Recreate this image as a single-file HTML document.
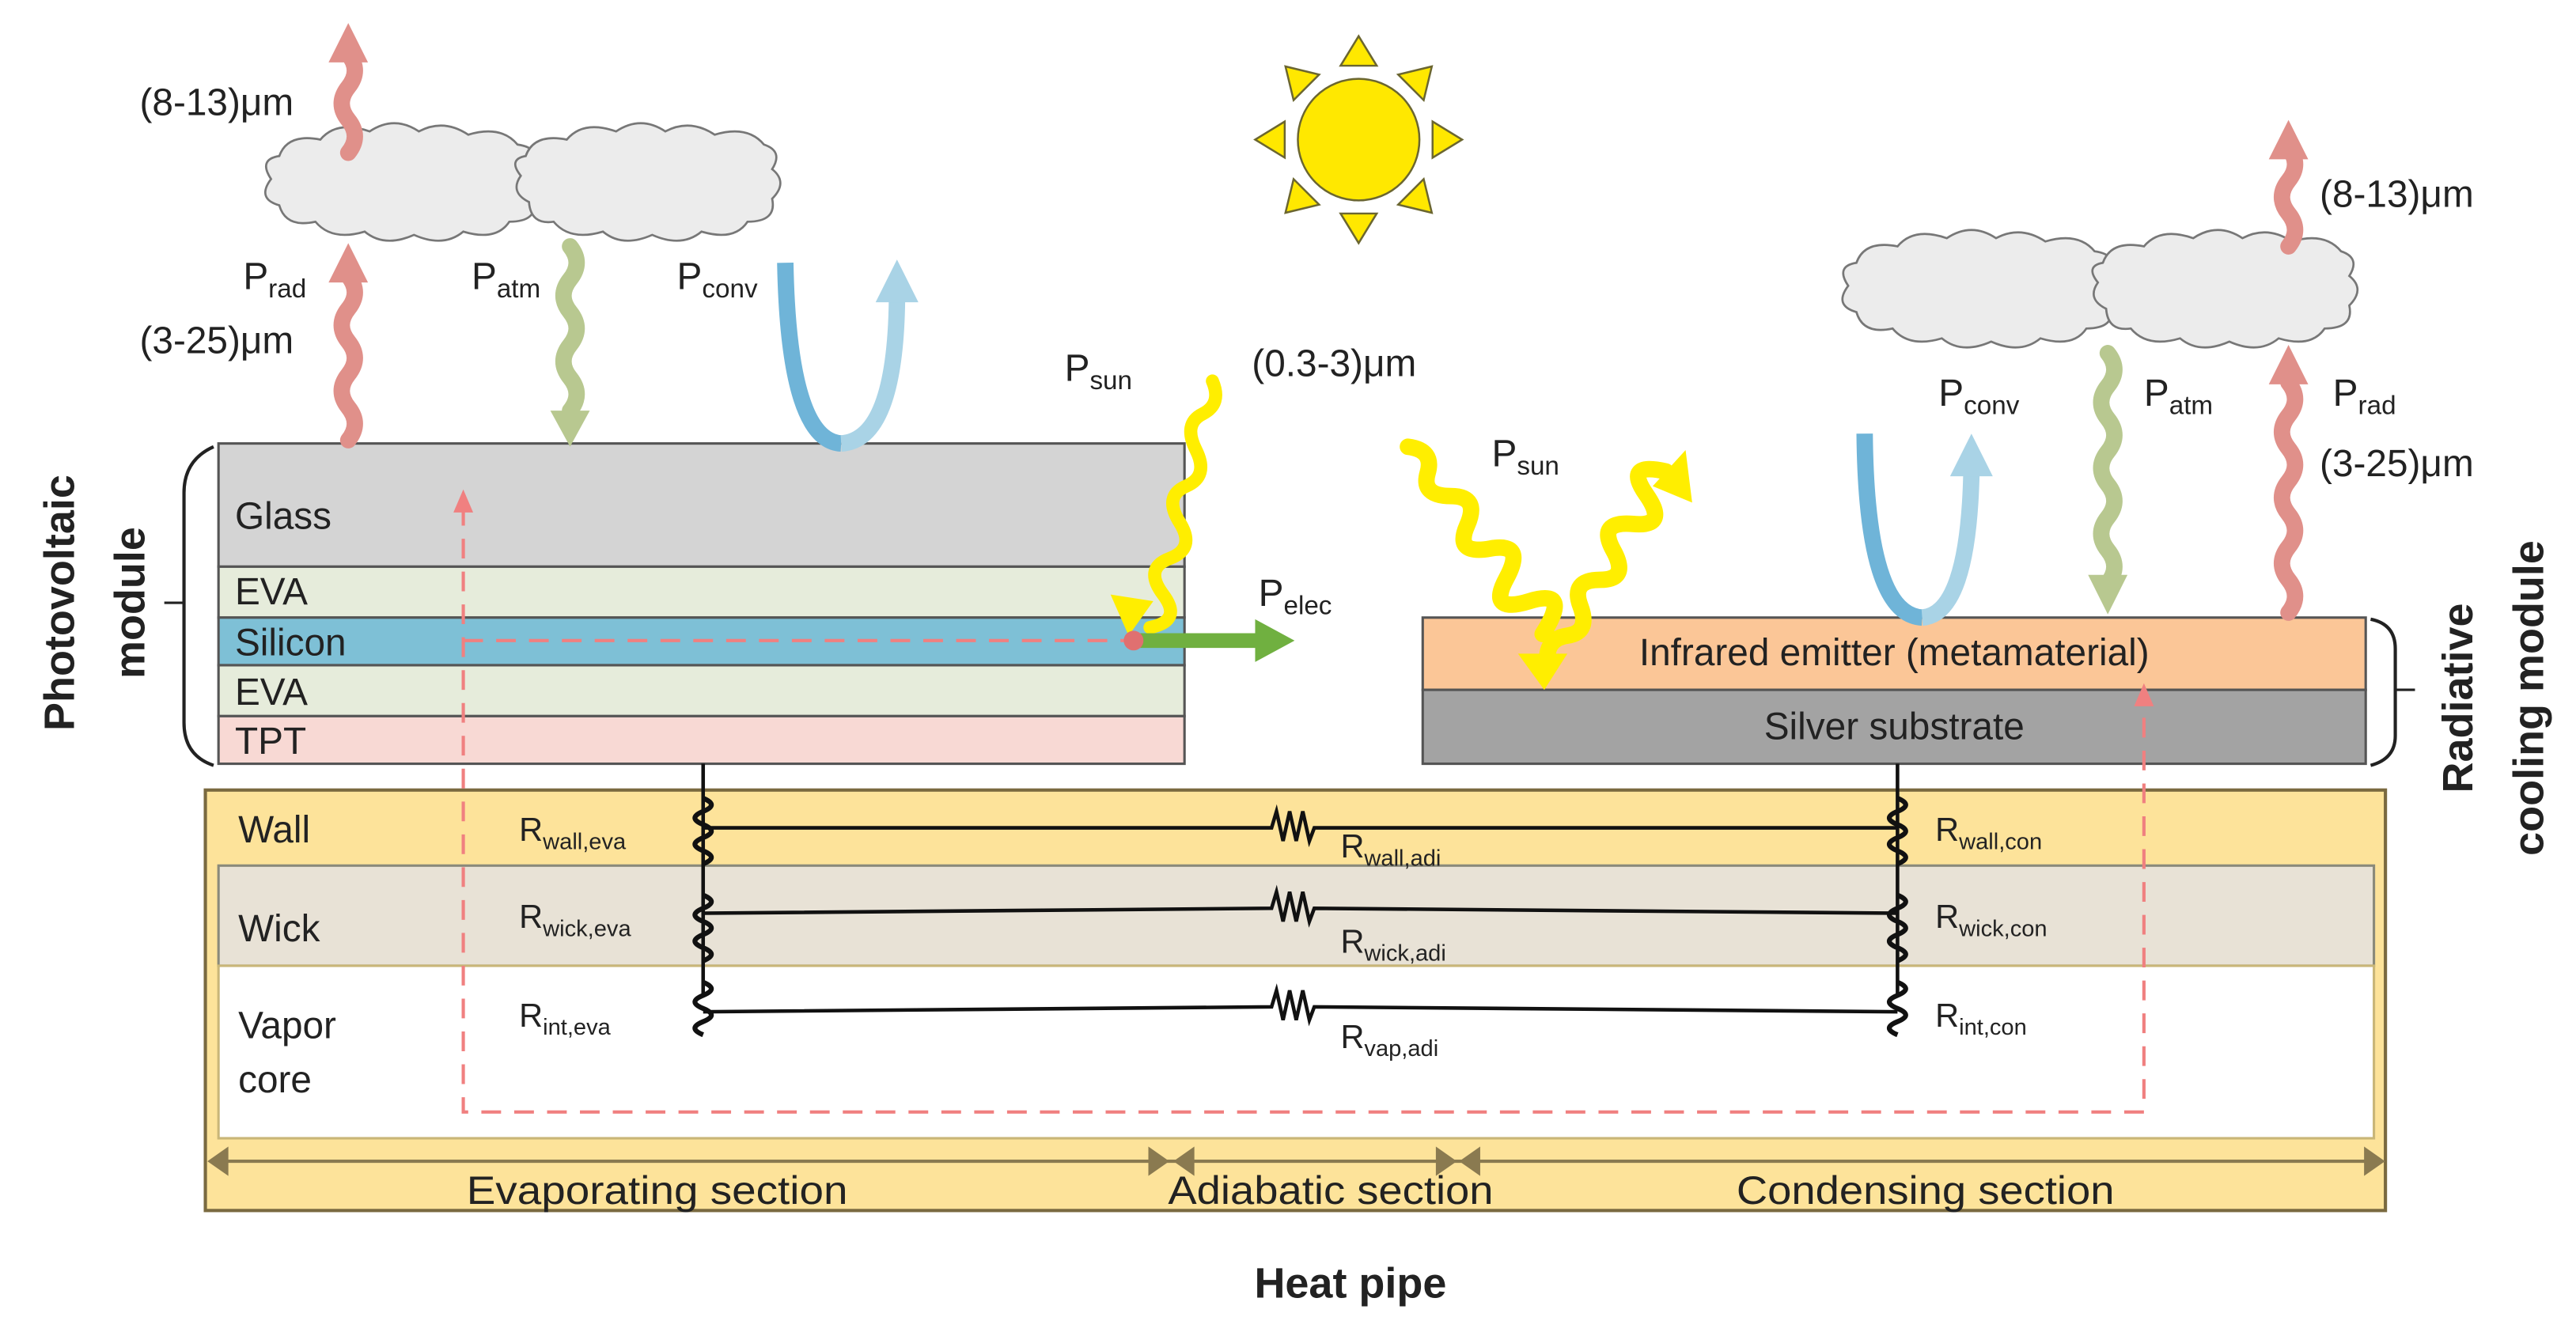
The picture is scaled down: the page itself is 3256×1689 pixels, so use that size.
<!DOCTYPE html>
<html><head><meta charset="utf-8"><style>
html,body{margin:0;padding:0;background:#fff;}
svg{display:block;}
text{font-family:"Liberation Sans",sans-serif;fill:#222;}
.s{font-size:14px;}
</style></head><body>
<svg width="3256" height="1689" viewBox="0 0 1568 813.4" preserveAspectRatio="none" xmlns="http://www.w3.org/2000/svg">
<rect width="1568" height="814" fill="#fff"/>

<!-- sun -->
<g fill="#ffe800" stroke="#6b6630" stroke-width="1.2">
<circle cx="827" cy="85" r="37"/>
<g id="tri"><polygon points="816,40 838,40 827,22"/></g>
<use href="#tri" transform="rotate(45 827 85)"/><use href="#tri" transform="rotate(90 827 85)"/>
<use href="#tri" transform="rotate(135 827 85)"/><use href="#tri" transform="rotate(180 827 85)"/>
<use href="#tri" transform="rotate(225 827 85)"/><use href="#tri" transform="rotate(270 827 85)"/>
<use href="#tri" transform="rotate(315 827 85)"/>
</g>

<!-- PV module -->
<rect x="133" y="270" width="588" height="75" fill="#d4d4d4" stroke="#555" stroke-width="1.5"/>
<rect x="133" y="345" width="588" height="31" fill="#e6ecdb" stroke="#555" stroke-width="1.5"/>
<rect x="133" y="376" width="588" height="29" fill="#7ec0d6" stroke="#555" stroke-width="1.5"/>
<rect x="133" y="405" width="588" height="31" fill="#e6ecdb" stroke="#555" stroke-width="1.5"/>
<rect x="133" y="436" width="588" height="29" fill="#f8d9d4" stroke="#555" stroke-width="1.5"/>
<text x="143" y="322" font-size="23">Glass</text>
<text x="143" y="368" font-size="23">EVA</text>
<text x="143" y="399" font-size="23">Silicon</text>
<text x="143" y="429" font-size="23">EVA</text>
<text x="143" y="459" font-size="23">TPT</text>
<path d="M130,272 Q112,280 112,300 L112,440 Q112,460 130,466" fill="none" stroke="#222" stroke-width="2"/>
<line x1="100" y1="367" x2="112" y2="367" stroke="#222" stroke-width="1.5"/>
<text transform="translate(45,367) rotate(-90)" text-anchor="middle" font-size="26" font-weight="bold">Photovoltaic</text>
<text transform="translate(88,367) rotate(-90)" text-anchor="middle" font-size="26" font-weight="bold">module</text>

<!-- Radiative module -->
<rect x="866" y="376" width="574" height="44" fill="#fbc697" stroke="#555" stroke-width="1.5"/>
<rect x="866" y="420" width="574" height="45" fill="#a3a3a3" stroke="#555" stroke-width="1.5"/>
<text x="1153" y="405" font-size="23" text-anchor="middle">Infrared emitter (metamaterial)</text>
<text x="1153" y="450" font-size="23" text-anchor="middle">Silver substrate</text>
<path d="M1443,377 Q1458,380 1458,395 L1458,448 Q1458,462 1443,466" fill="none" stroke="#222" stroke-width="2"/>
<line x1="1458" y1="420" x2="1470" y2="420" stroke="#222" stroke-width="1.5"/>
<text transform="translate(1505,425) rotate(-90)" text-anchor="middle" font-size="26" font-weight="bold">Radiative</text>
<text transform="translate(1548,425) rotate(-90)" text-anchor="middle" font-size="26" font-weight="bold">cooling module</text>

<!-- Heat pipe -->
<rect x="125" y="481" width="1327" height="256" fill="#fde39a" stroke="#7a6a40" stroke-width="2"/>
<rect x="133" y="527" width="1312" height="61" fill="#e8e2d6" stroke="#8a8a7a" stroke-width="1.5"/>
<rect x="133" y="588" width="1312" height="105" fill="#fff" stroke="#c9b678" stroke-width="1.5"/>
<text x="145" y="513" font-size="23">Wall</text>
<text x="145" y="573" font-size="23">Wick</text>
<text x="145" y="632" font-size="23">Vapor</text>
<text x="145" y="665" font-size="23">core</text>
<g fill="#8a7a50" stroke="#8a7a50" stroke-width="2">
<line x1="130" y1="707" x2="1448" y2="707"/>
<polygon points="128,707 138,700 138,714"/><polygon points="710,707 700,700 700,714"/>
<polygon points="716,707 726,700 726,714"/><polygon points="885,707 875,700 875,714"/>
<polygon points="890,707 900,700 900,714"/><polygon points="1450,707 1440,700 1440,714"/>
</g>
<text x="400" y="733" font-size="24" text-anchor="middle" textLength="232" lengthAdjust="spacingAndGlyphs">Evaporating section</text>
<text x="810" y="733" font-size="24" text-anchor="middle" textLength="198" lengthAdjust="spacingAndGlyphs">Adiabatic section</text>
<text x="1172" y="733" font-size="24" text-anchor="middle" textLength="230" lengthAdjust="spacingAndGlyphs">Condensing section</text>
<text x="822" y="790" font-size="26" font-weight="bold" text-anchor="middle">Heat pipe</text>

<!-- resistor network -->
<g fill="none" stroke="#111" stroke-width="2.2">
<line x1="428" y1="465" x2="428" y2="605"/>
<line x1="1155" y1="465" x2="1155" y2="605"/>
<path d="M428,486 q10,4 0,8 t0,8 t0,8 t0,8 t0,8" stroke-width="3"/>
<path d="M428,545 q10,4 0,8 t0,8 t0,8 t0,8 t0,8" stroke-width="3"/>
<path d="M428,598 q10,4 0,8 t0,8 t0,8 t0,8" stroke-width="3"/>
<path d="M1155,486 q10,4 0,8 t0,8 t0,8 t0,8 t0,8" stroke-width="3"/>
<path d="M1155,545 q10,4 0,8 t0,8 t0,8 t0,8 t0,8" stroke-width="3"/>
<path d="M1155,598 q10,4 0,8 t0,8 t0,8 t0,8" stroke-width="3"/>
<path d="M428,504 L774,504 l3,-10 l4,18 l4,-18 l4,18 l4,-18 l4,18 l3,-8 L1155,504"/>
<path d="M428,556 L774,553 l3,-10 l4,18 l4,-18 l4,18 l4,-18 l4,18 l3,-8 L1155,556"/>
<path d="M428,616 L774,613 l3,-10 l4,18 l4,-18 l4,18 l4,-18 l4,18 l3,-8 L1155,616"/>
</g>
<g font-size="20">
<text x="316" y="512">R<tspan class="s" dy="5">wall,eva</tspan></text>
<text x="316" y="565">R<tspan class="s" dy="5">wick,eva</tspan></text>
<text x="316" y="625">R<tspan class="s" dy="5">int,eva</tspan></text>
<text x="816" y="522">R<tspan class="s" dy="5">wall,adi</tspan></text>
<text x="816" y="580">R<tspan class="s" dy="5">wick,adi</tspan></text>
<text x="816" y="638">R<tspan class="s" dy="5">vap,adi</tspan></text>
<text x="1178" y="512">R<tspan class="s" dy="5">wall,con</tspan></text>
<text x="1178" y="565">R<tspan class="s" dy="5">wick,con</tspan></text>
<text x="1178" y="625">R<tspan class="s" dy="5">int,con</tspan></text>
</g>

<!-- dashed heat path -->
<g fill="none" stroke="#f08080" stroke-width="2" stroke-dasharray="12,8">
<path d="M282,308 L282,677 L1305,677 L1305,428"/>
<path d="M282,390 L690,390"/>
</g>
<polygon points="282,298 276,312 288,312" fill="#f08080"/>
<polygon points="1305,416 1299,430 1311,430" fill="#f08080"/>

<!-- clouds -->
<g fill="#ececec" stroke="#777" stroke-width="1.3">
<path d="M170,95 q5,-14 25,-10 q10,-12 30,-5 q15,-10 30,0 q15,-8 30,2 q20,-6 30,6 q15,2 10,15 q12,8 0,18 q3,14 -15,14 q-8,12 -28,6 q-12,10 -30,2 q-18,8 -30,-2 q-20,6 -30,-6 q-18,4 -22,-10 q-14,-4 -5,-16 q-8,-12 5,-14 z"/>
<path d="M320,95 q5,-14 25,-10 q10,-12 30,-5 q15,-10 30,0 q15,-8 30,2 q20,-6 30,6 q12,4 5,15 q10,8 0,18 q3,14 -15,14 q-8,12 -28,6 q-12,10 -30,2 q-18,8 -30,-2 q-20,6 -30,-6 q-14,2 -15,-12 q-12,-6 -5,-16 q-8,-10 3,-12 z"/>
<path d="M1130,160 q5,-14 25,-10 q10,-12 30,-5 q15,-10 30,0 q15,-8 30,2 q20,-6 30,6 q15,2 10,15 q12,8 0,18 q3,14 -15,14 q-8,12 -28,6 q-12,10 -30,2 q-18,8 -30,-2 q-20,6 -30,-6 q-18,4 -22,-10 q-14,-4 -5,-16 q-8,-12 5,-14 z"/>
<path d="M1280,160 q5,-14 25,-10 q10,-12 30,-5 q15,-10 30,0 q15,-8 30,2 q20,-6 30,6 q12,4 5,15 q10,8 0,18 q3,14 -15,14 q-8,12 -28,6 q-12,10 -30,2 q-18,8 -30,-2 q-20,6 -30,-6 q-14,2 -15,-12 q-12,-6 -5,-16 q-8,-10 3,-12 z"/>
</g>

<!-- wavy arrows -->
<g fill="none" stroke-width="10" stroke-linecap="round">
<path stroke="#e0908a" d="M212,268 q8,-10 0,-20 t0,-20 t0,-20 t0,-20 t0,-20"/>
<path stroke="#e0908a" d="M212,93 q8,-10 0,-20 t0,-20 t0,-20"/>
<path stroke="#b8c890" d="M347,150 q8,10 0,20 t0,20 t0,20 t0,20 t0,20"/>
<path stroke="#e0908a" d="M1393,373 q8,-10 0,-20 t0,-20 t0,-20 t0,-20 t0,-20 t0,-20 t0,-20"/>
<path stroke="#e0908a" d="M1393,150 q8,-10 0,-20 t0,-20 t0,-20"/>
<path stroke="#b8c890" d="M1283,215 q8,10 0,20 t0,20 t0,20 t0,20 t0,20 t0,20 t0,20"/>
<path stroke="#ffee00" stroke-width="8" d="M738,232 q6,14 -6,20 t-4,22 t-6,22 t-4,22 t-6,22 t-4,22 t-8,20"/>
<path stroke="#ffee00" stroke-width="10" d="M857,272 q16,2 12,16 t14,14 t10,18 t14,14 t10,18 t14,14 t8,20"/>
<path stroke="#ffee00" stroke-width="10" d="M942,405 q-2,-16 12,-18 t8,-18 t12,-16 t8,-18 t12,-16 t8,-18 t12,-14"/>
</g>
<g>
<polygon points="200,172 224,172 212,148" fill="#e0908a"/>
<polygon points="200,38 224,38 212,14" fill="#e0908a"/>
<polygon points="335,250 359,250 347,272" fill="#b8c890"/>
<polygon points="1381,234 1405,234 1393,210" fill="#e0908a"/>
<polygon points="1381,97 1405,97 1393,73" fill="#e0908a"/>
<polygon points="1271,350 1295,350 1283,374" fill="#b8c890"/>
<polygon points="676,362 702,366 687,387" fill="#ffee00"/>
<polygon points="924,398 954,398 940,420" fill="#ffee00"/>
<polygon points="1006,296 1030,306 1026,274" fill="#ffee00"/>
</g>
<!-- convection U arrows -->
<path d="M478,160 Q480,268 512,270" fill="none" stroke="#6fb4d8" stroke-width="10"/>
<path d="M512,270 Q545,268 546,182" fill="none" stroke="#a9d3e6" stroke-width="10"/>
<polygon points="533,184 559,184 546,158" fill="#a9d3e6"/>
<path d="M1135,264 Q1136,374 1170,376" fill="none" stroke="#6fb4d8" stroke-width="10"/>
<path d="M1170,376 Q1198,374 1200,288" fill="none" stroke="#a9d3e6" stroke-width="10"/>
<polygon points="1187,290 1213,290 1200,264" fill="#a9d3e6"/>
<!-- Pelec -->
<line x1="690" y1="390" x2="768" y2="390" stroke="#70b040" stroke-width="9"/>
<polygon points="764,377 764,403 788,390" fill="#70b040"/>
<circle cx="690" cy="390" r="6" fill="#e07070"/>

<!-- labels -->
<g font-size="23">
<text x="85" y="70">(8-13)μm</text>
<text x="148" y="176">P<tspan font-size="16" dy="5">rad</tspan></text>
<text x="85" y="215">(3-25)μm</text>
<text x="287" y="176">P<tspan font-size="16" dy="5">atm</tspan></text>
<text x="412" y="176">P<tspan font-size="16" dy="5">conv</tspan></text>
<text x="648" y="232">P<tspan font-size="16" dy="5">sun</tspan></text>
<text x="762" y="229">(0.3-3)μm</text>
<text x="766" y="369">P<tspan font-size="16" dy="5">elec</tspan></text>
<text x="908" y="284">P<tspan font-size="16" dy="5">sun</tspan></text>
<text x="1180" y="247">P<tspan font-size="16" dy="5">conv</tspan></text>
<text x="1305" y="247">P<tspan font-size="16" dy="5">atm</tspan></text>
<text x="1420" y="247">P<tspan font-size="16" dy="5">rad</tspan></text>
<text x="1412" y="290">(3-25)μm</text>
<text x="1412" y="126">(8-13)μm</text>
</g>
</svg>
</body></html>
